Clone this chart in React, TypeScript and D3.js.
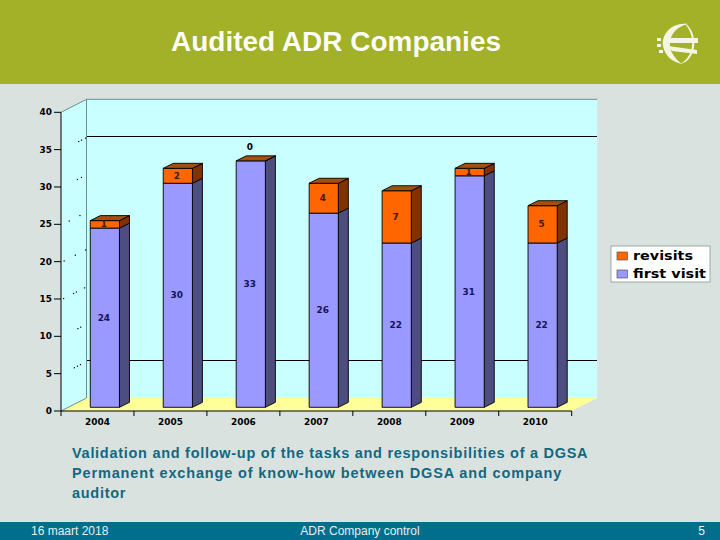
import React from "react";
import * as d3 from "d3";

const years = ["2004", "2005", "2006", "2007", "2008", "2009", "2010"];
const firstVisit = [24, 30, 33, 26, 22, 31, 22];
const revisits = [1, 2, 0, 4, 7, 1, 5];
const yTicks = [0, 5, 10, 15, 20, 25, 30, 35, 40];
const wallLines = [5, 35];
const bodyLines = [
  "Validation and follow-up of the tasks and responsibilities of a DGSA",
  "Permanent exchange of know-how between DGSA and company",
  "auditor",
];
const bodySpacing = [0.72, 0.85, 0.72];

// stray dots left on the side wall, as fractions along each tick's wall line
const wallSpecks: [number, number[]][] = [
  [5, [0.5, 0.62, 0.74]],
  [10, [0.64, 0.75]],
  [15, [0.08, 0.47, 0.58, 0.9]],
  [20, [0.1, 0.54, 0.94]],
  [25, [0.3, 0.72]],
  [30, [0.62, 0.78]],
  [35, [0.67, 0.78, 0.94]],
];

const W = 720;
const H = 540;
const x0 = 61;
const x1 = 571.7;
const wallDx = 25.5;
const wallDy = -13;
const barDx = 7.4;
const barDy = -3.7;
const sideDx = 10;
const sideDy = -5;
const digitWidth = 6.2;

const y = d3.scaleLinear().domain([0, 40]).range([411, 112.3]);
const x = d3.scaleBand<string>().domain(years).range([x0, x1]).paddingInner(0.6).paddingOuter(0.3);

const rows = years.map((year, i) => ({ year, first: firstVisit[i], revisits: revisits[i] }));
const stack = d3.stack<any>().keys(["first", "revisits"]);
const series = stack(rows);

const fills = [
  { front: "#9999ff", side: "#4d4d80", top: "#7a7acc", label: "#14145a" },
  { front: "#ff6600", side: "#803300", top: "#a64f0c", label: "#401a00" },
];

const poly = (pts: [number, number][]) => pts.map((p) => p.join(",")).join(" ");
const bodyFont = "'Liberation Sans', Arial, sans-serif";
const chartFont = "'DejaVu Sans', sans-serif";

// chart digits in the picture are stretched sideways
const Num = ({ px, py, v, anchor = "middle", fill = "#000" }: any) => (
  <text
    x={px}
    y={py}
    textAnchor={anchor}
    fontFamily={chartFont}
    fontWeight="bold"
    fontSize={8}
    fill={fill}
    textLength={String(v).length * digitWidth}
    lengthAdjust="spacingAndGlyphs"
  >
    {v}
  </text>
);

export default function App() {
  const yTop = y(40);
  const yBase = y(0);
  return (
    <svg
      width={W}
      height={H}
      viewBox={`0 0 ${W} ${H}`}
      style={{ position: "absolute", left: 0, top: 0, display: "block" }}
    >
      <rect width={W} height={H} fill="#dae2e0" />
      <rect width={W} height={84} fill="#a2b128" />
      <rect y={522} width={W} height={18} fill="#006e8c" />

      <text x={336} y={51} textAnchor="middle" fontFamily={bodyFont} fontWeight="bold" fontSize={28} textLength={330} lengthAdjust="spacingAndGlyphs" fill="#fff" fillOpacity={0.97}>
        Audited ADR Companies
      </text>

      {/* logo */}
      <g fill="#f4f6e4">
        <path d="M 688 24 C 671 22 661 35 663 46 C 665 56 672 62 682 64 C 674 58 669 50 670 42 C 671 33 678 26 688 24 Z" />
        <path d="M 684 23 C 694 28 697 44 692 54 C 689 60 685 63 680 64 C 687 60 691 54 692 46 C 693 37 690 29 684 23 Z" />
        <rect x={664} y={38} width={34} height={5} />
        <path d="M 668 46 L 697 50 L 697 54 L 672 51 Z" />
        <rect x={657} y={38} width={4} height={3} />
        <rect x={657} y={44} width={4} height={3} />
        <rect x={659} y={50} width={4} height={3} />
      </g>

      {/* walls and floor */}
      <polygon
        points={poly([[x0 + wallDx, yTop + wallDy], [x1 + wallDx, yTop + wallDy], [x1 + wallDx, yBase + wallDy], [x0 + wallDx, yBase + wallDy]])}
        fill="#c9ffff"
      />
      <polygon
        points={poly([[x0, yTop], [x0 + wallDx, yTop + wallDy], [x0 + wallDx, yBase + wallDy], [x0, yBase]])}
        fill="#c9ffff"
      />
      <polygon
        points={poly([[x0, yBase], [x0 + wallDx, yBase + wallDy], [x1 + wallDx, yBase + wallDy], [x1, yBase]])}
        fill="#ffff99"
      />
      <path
        d={`M ${x0} ${yTop} L ${x0 + wallDx} ${yTop + wallDy} H ${x1 + wallDx} M ${x0 + wallDx} ${yTop + wallDy} V ${yBase + wallDy} L ${x0} ${yBase}`}
        fill="none"
        stroke="#6f8f8f"
        strokeWidth={1}
      />
      {wallLines.map((v) => (
        <line key={v} x1={x0 + wallDx} x2={x1 + wallDx} y1={y(v) + wallDy} y2={y(v) + wallDy} stroke="#000" strokeWidth={1} shapeRendering="crispEdges" />
      ))}
      {wallSpecks.map(([v, fracs]) =>
        fracs.map((f) => (
          <rect key={`${v}-${f}`} x={x0 + wallDx * f} y={y(v) + wallDy * f} width={1.2} height={1.2} fill="#000" />
        ))
      )}

      {/* bars */}
      {years.map((year, i) => {
        const left = x(year)! + barDx;
        const right = left + x.bandwidth();
        return (
          <g key={year} stroke="#000" strokeWidth={0.9} strokeLinejoin="round">
            {series.map((s, k) => {
              const top = y(s[i][1]) + barDy;
              const bottom = y(s[i][0]) + barDy;
              const isTop = k === series.length - 1;
              return (
                <g key={s.key}>
                  <polygon
                    points={poly([[right, top], [right + sideDx, top + sideDy], [right + sideDx, bottom + sideDy], [right, bottom]])}
                    fill={fills[k].side}
                  />
                  <rect x={left} y={top} width={x.bandwidth()} height={bottom - top} fill={fills[k].front} />
                  {isTop && (
                    <polygon
                      points={poly([[left, top], [left + sideDx, top + sideDy], [right + sideDx, top + sideDy], [right, top]])}
                      fill={fills[k].top}
                    />
                  )}
                </g>
              );
            })}
          </g>
        );
      })}

      {/* value labels */}
      {years.map((year, i) =>
        series.map((s, k) => {
          const v = s[i][1] - s[i][0];
          const mid = y((s[i][0] + s[i][1]) / 2) + barDy;
          return (
            <Num
              key={`${year}-${s.key}`}
              px={x(year)! + barDx + x.bandwidth() / 2 - 1}
              py={(v === 0 ? mid - 14 : mid) + 3}
              v={v}
              fill={v === 0 ? "#000" : fills[k].label}
            />
          );
        })
      )}

      {/* axes */}
      <g stroke="#000" strokeWidth={1} fill="none">
        <line x1={x0} x2={x0} y1={yTop} y2={yBase + 5} />
        <line x1={x0} x2={x1} y1={yBase} y2={yBase} />
        {yTicks.map((t) => (
          <line key={t} x1={x0 - 7} x2={x0} y1={y(t)} y2={y(t)} />
        ))}
        {years.map((year) => (
          <line key={year} x1={x(year)! + x.step() * 0.7} x2={x(year)! + x.step() * 0.7} y1={yBase} y2={yBase + 5} />
        ))}
      </g>
      {yTicks.map((t) => (
        <Num key={t} px={52} py={y(t) + 3} v={t} anchor="end" />
      ))}
      {years.map((year) => (
        <Num key={year} px={x(year)! + x.bandwidth() / 2} py={425} v={year} />
      ))}

      {/* legend */}
      <rect x={611} y={246} width={99} height={36} fill="#fff" stroke="#8a9a9a" strokeWidth={0.8} />
      <rect x={617} y={252} width={10.5} height={8} fill="#ff6600" stroke="#444" strokeWidth={0.6} />
      <rect x={617} y={270} width={10.5} height={8} fill="#9999ff" stroke="#444" strokeWidth={0.6} />
      <text x={633} y={260} fontFamily={chartFont} fontWeight="bold" fontSize={12} textLength={60} lengthAdjust="spacingAndGlyphs" fill="#000">
        revisits
      </text>
      <text x={633} y={278} fontFamily={chartFont} fontWeight="bold" fontSize={12} textLength={73} lengthAdjust="spacingAndGlyphs" fill="#000">
        first visit
      </text>

      {/* body text */}
      {bodyLines.map((line, i) => (
        <text key={i} x={72} y={458 + i * 20} fontFamily={bodyFont} fontWeight="bold" fontSize={14.5} letterSpacing={bodySpacing[i]} fill="#12687f">
          {line}
        </text>
      ))}

      {/* footer */}
      <g fontFamily={bodyFont} fontSize={12} fill="#e8eeee">
        <text x={31} y={535}>16 maart 2018</text>
        <text x={360} y={535} textAnchor="middle">ADR Company control</text>
        <text x={705} y={535} textAnchor="end">5</text>
      </g>
    </svg>
  );
}
